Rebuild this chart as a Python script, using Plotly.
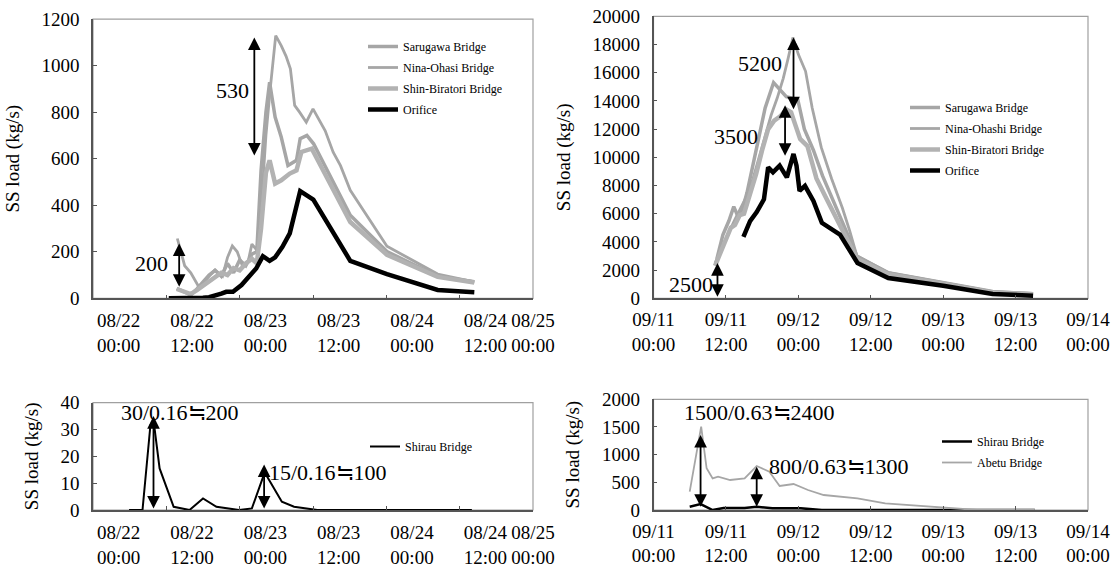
import plotly.graph_objects as go

FONT = "Liberation Serif"

# ---------------- Top-left: August event (hours from 08/22 00:00) ----------------
tl_saru_h = [13.7, 15.0, 16.0, 17.0, 18.0, 19.0, 20.0, 21.0, 22.0, 23.0, 24.0, 25.0, 26.0, 26.8, 27.5, 28.3, 28.9, 29.8, 30.8, 31.9, 33.3, 33.9, 35.0, 36.1, 42.1, 48.1, 56.4, 62.4]
tl_saru_v = [43, 25, 15, 40, 70, 100, 120, 95, 150, 110, 165, 140, 190, 200, 550, 800, 929, 779, 693, 571, 593, 686, 700, 664, 357, 201, 95, 71]

tl_nina_h = [13.8, 15.0, 16.0, 17.3, 18.5, 19.9, 21.2, 22.0, 22.8, 23.6, 24.5, 25.4, 26.0, 26.8, 27.6, 28.3, 29.0, 29.9, 30.8, 31.6, 32.3, 33.0, 33.8, 34.9, 36.0, 38.0, 39.3, 40.5, 42.1, 48.1, 56.4, 62.4]
tl_nina_v = [257, 140, 110, 50, 80, 121, 95, 175, 225, 200, 136, 160, 233, 207, 420, 700, 900, 1129, 1086, 1040, 986, 829, 800, 757, 814, 720, 628, 570, 464, 224, 104, 71]

tl_shin_h = [13.7, 15.0, 16.0, 17.0, 18.0, 19.0, 20.0, 21.0, 22.0, 23.0, 24.0, 25.0, 26.0, 26.8, 27.5, 28.3, 28.9, 29.8, 30.8, 32.2, 33.3, 34.1, 35.8, 42.1, 48.1, 56.4, 62.4]
tl_shin_v = [40, 28, 18, 35, 55, 75, 95, 110, 100, 130, 120, 150, 170, 150, 300, 540, 593, 493, 507, 536, 550, 629, 643, 328, 187, 92, 68]

tl_orif_h = [12.4, 14.0, 16.0, 18.0, 19.0, 20.1, 21.0, 21.8, 22.9, 24.3, 25.6, 26.7, 27.8, 28.9, 29.8, 31.0, 32.2, 33.9, 36.05, 39.3, 42.1, 48.1, 56.4, 62.4]
tl_orif_v = [0, 0, 0, 2, 5, 12, 20, 28, 28, 57, 93, 128, 181, 161, 176, 221, 279, 461, 424, 279, 161, 104, 36, 26]

# ---------------- Top-right: September event (hours from 09/11 00:00) ----------------
tr_saru_h = [10.5, 11.5, 12.5, 13.3, 14.0, 14.8, 15.5, 16.5, 17.5, 18.5, 19.9, 20.9, 22.0, 23.0, 23.9, 25.0, 26.5, 28.0, 29.5, 31.0, 32.5, 33.7, 38.9, 48.0, 56.2, 62.9]
tr_saru_v = [2800, 4500, 5500, 6500, 5800, 6400, 7500, 9500, 11500, 13500, 15300, 14800, 14300, 14200, 14100, 12000, 10500, 8700, 7200, 5800, 4300, 3000, 1800, 1100, 450, 330]

tr_nina_h = [10.2, 11.5, 12.5, 13.5, 14.5, 15.5, 16.5, 17.5, 18.5, 19.5, 20.5, 21.5, 22.3, 23.1, 24.0, 25.2, 26.3, 27.8, 29.5, 31.3, 32.5, 33.7, 38.9, 48.0, 56.2, 62.9]
tr_nina_v = [2500, 3800, 4700, 5600, 6500, 7300, 8500, 10000, 11500, 13000, 14200, 15600, 17000, 18500, 17300, 16100, 13500, 10700, 8500, 6400, 4800, 3000, 1840, 1130, 500, 350]

tr_shin_h = [10.2, 11.3, 12.0, 12.8, 13.5, 14.3, 15.0, 16.0, 17.0, 18.0, 19.0, 20.0, 21.0, 22.0, 22.8, 23.5, 24.3, 25.5, 27.0, 28.5, 30.0, 31.5, 33.7, 38.9, 48.0, 56.2, 62.9]
tr_shin_v = [2300, 3500, 4200, 5000, 5200, 5900, 6000, 7300, 8800, 10500, 12000, 12600, 12900, 13400, 13200, 12300, 11300, 10800, 8500, 7200, 5900, 4600, 2800, 1700, 1000, 400, 280]

tr_orif_h = [14.9, 16.0, 17.1, 18.3, 19.0, 19.8, 20.9, 22.1, 23.2, 23.7, 24.2, 25.1, 26.5, 27.9, 30.9, 33.8, 38.9, 48.0, 56.2, 62.9]
tr_orif_v = [4357, 5476, 6119, 7024, 9286, 8929, 9405, 8572, 10238, 9405, 7619, 7976, 6905, 5357, 4524, 2500, 1438, 896, 307, 189]

# ---------------- Bottom-left: Shirau Bridge, August ----------------
bl_shirau_h = [5.9, 8.1, 9.4, 9.9, 10.9, 13.2, 15.8, 18.0, 20.2, 23.9, 26.0, 28.1, 30.9, 32.9, 36.7, 62.0]
bl_shirau_v = [0, 0, 31.7, 33.5, 15.5, 1.2, 0, 4.3, 1.2, 0, 0.6, 14, 3.1, 1.2, 0, 0]

# ---------------- Bottom-right: Shirau / Abetu Bridge, September ----------------
br_shirau_h = [6.0, 7.8, 9.8, 11.6, 15.1, 17.1, 19.7, 24.4, 27.9, 63.2]
br_shirau_v = [60, 108, 0, 36, 36, 60, 30, 30, 0, 0]

br_abetu_h = [6.0, 7.9, 8.8, 9.8, 10.7, 12.7, 15.1, 17.1, 19.2, 20.9, 23.2, 25.6, 28.2, 33.8, 38.4, 48.1, 53.6, 63.2]
br_abetu_v = [331, 1506, 753, 572, 602, 542, 572, 795, 693, 434, 470, 361, 271, 211, 120, 48, 0, 0]

# ---------------- Axis labels ----------------
tick_hours = [0, 12, 24, 36, 48, 60, 72]
# the August panels print their date labels slightly to the right of the ticks
aug_label_hours = [4.2, 16.2, 28.2, 40.2, 52.2, 64.2, 72.0]
aug_ticks = ["08/22<br>00:00", "08/22<br>12:00", "08/23<br>00:00", "08/23<br>12:00",
             "08/24<br>00:00", "08/24<br>12:00", "08/25<br>00:00"]
sep_ticks = ["09/11<br>00:00", "09/11<br>12:00", "09/12<br>00:00", "09/12<br>12:00",
             "09/13<br>00:00", "09/13<br>12:00", "09/14<br>00:00"]
y_title = "SS load (kg/s)"

GRAY = "#a6a6a6"
GRAY_L = "#b2b2b2"

fig = go.Figure()

def add(xs, ys, name, color, width, xa, ya, leg, grp):
    fig.add_trace(go.Scatter(x=xs, y=ys, mode="lines", name=name,
                             line=dict(color=color, width=width),
                             xaxis=xa, yaxis=ya, legend=leg, legendgroup=grp))

add(tl_saru_h, tl_saru_v, "Sarugawa Bridge", GRAY, 3.5, "x", "y", "legend", "a1")
add(tl_nina_h, tl_nina_v, "Nina-Ohasi Bridge", GRAY, 2.8, "x", "y", "legend", "a2")
add(tl_shin_h, tl_shin_v, "Shin-Biratori Bridge", GRAY_L, 4.5, "x", "y", "legend", "a3")
add(tl_orif_h, tl_orif_v, "Orifice", "black", 4.5, "x", "y", "legend", "a4")

add(tr_saru_h, tr_saru_v, "Sarugawa Bridge", GRAY, 3.5, "x2", "y2", "legend2", "b1")
add(tr_nina_h, tr_nina_v, "Nina-Ohashi Bridge", GRAY, 2.8, "x2", "y2", "legend2", "b2")
add(tr_shin_h, tr_shin_v, "Shin-Biratori Bridge", GRAY_L, 4.5, "x2", "y2", "legend2", "b3")
add(tr_orif_h, tr_orif_v, "Orifice", "black", 4.5, "x2", "y2", "legend2", "b4")

add(bl_shirau_h, bl_shirau_v, "Shirau Bridge", "black", 2, "x3", "y3", "legend3", "c1")

add(br_shirau_h, br_shirau_v, "Shirau Bridge", "black", 2.5, "x4", "y4", "legend4", "d1")
add(br_abetu_h, br_abetu_v, "Abetu Bridge", GRAY, 1.8, "x4", "y4", "legend4", "d2")

# empty traces so the date-label axes of the August panels get drawn
for xa, ya in [("x5", "y"), ("x6", "y3")]:
    fig.add_trace(go.Scatter(x=[None], y=[None], mode="lines", xaxis=xa, yaxis=ya,
                             showlegend=False, hoverinfo="skip"))

W, H = 1114, 570
def px_x(a, b):
    return [a / W, b / W]
def px_y(top, bottom):
    return [1 - bottom / H, 1 - top / H]

xdom_l = px_x(93, 533)
xdom_r = px_x(653.5, 1088)

axis_font = dict(family=FONT, size=19, color="black")

def xaxis(dom, anchor, ticks_text, show_labels=True):
    return dict(domain=dom, anchor=anchor, range=[0, 72], tickvals=tick_hours,
                ticktext=ticks_text, showticklabels=show_labels,
                showgrid=False, zeroline=False, automargin=False,
                showline=True, linecolor="#555555", linewidth=1.5,
                ticks="inside", ticklen=4, tickcolor="#555555",
                tickfont=axis_font, ticklabelstandoff=3)

def label_axis(dom, over, anchor):
    return dict(domain=dom, overlaying=over, anchor=anchor, side="bottom", range=[0, 72],
                tickvals=aug_label_hours, ticktext=aug_ticks, ticks="",
                showline=False, showgrid=False, zeroline=False, automargin=False,
                tickfont=axis_font, ticklabelstandoff=9)

def yaxis(dom, anchor, rng, dtick):
    return dict(domain=dom, anchor=anchor, range=rng, dtick=dtick, tickformat="d",
                showgrid=False, zeroline=False, showline=True, automargin=False,
                linecolor="#555555", linewidth=1.5, ticks="inside", ticklen=4,
                tickcolor="#555555", tickfont=axis_font, ticklabelstandoff=8,
                title=dict(text=y_title, font=axis_font, standoff=17))

fig.update_layout(
    width=W, height=H, margin=dict(l=0, r=0, t=0, b=0, autoexpand=False),
    paper_bgcolor="white", plot_bgcolor="white",
    font=dict(family=FONT, color="black"),
    xaxis=xaxis(xdom_l, "y", aug_ticks, show_labels=False),
    yaxis=yaxis(px_y(19.1, 298.3), "x", [0, 1200], 200),
    xaxis2=xaxis(xdom_r, "y2", sep_ticks),
    yaxis2=yaxis(px_y(16.3, 298.3), "x2", [0, 20000], 2000),
    xaxis3=xaxis(xdom_l, "y3", aug_ticks, show_labels=False),
    yaxis3=yaxis(px_y(402.7, 510), "x3", [0, 40], 10),
    xaxis4=xaxis(xdom_r, "y4", sep_ticks),
    yaxis4=yaxis(px_y(399.3, 510), "x4", [0, 2000], 500),
    xaxis5=label_axis(xdom_l, "x", "y"),
    xaxis6=label_axis(xdom_l, "x3", "y3"),
)

leg_common = dict(xanchor="left", yanchor="top", bgcolor="rgba(0,0,0,0)",
                  font=dict(family=FONT, size=12, color="black"),
                  tracegroupgap=2)
fig.update_layout(
    legend=dict(x=363 / W, y=1 - 32 / H, **leg_common),
    legend2=dict(x=905 / W, y=1 - 93 / H, **leg_common),
    legend3=dict(x=365 / W, y=1 - 432 / H, **leg_common),
    legend4=dict(x=937 / W, y=1 - 427 / H, **leg_common),
)

# plot frame boxes (top/right borders in gray)
for xa, ya in [("x", "y"), ("x2", "y2"), ("x3", "y3"), ("x4", "y4")]:
    fig.add_shape(type="rect", xref=f"{xa} domain", yref=f"{ya} domain",
                  x0=0, x1=1, y0=0, y1=1, line=dict(color="#a0a0a0", width=1.2),
                  layer="below")

def arrow(xa, ya, x, y_top, y_bot):
    fig.add_annotation(xref=xa, yref=ya, axref=xa, ayref=ya, x=x, y=y_top, ax=x, ay=y_bot,
                       text="", showarrow=True, arrowhead=2, startarrowhead=2,
                       arrowside="end+start", arrowwidth=1.8, arrowsize=1.4,
                       startarrowsize=1.4, arrowcolor="black", standoff=0, startstandoff=0)

def label(xa, ya, x, y, text, anchor="center"):
    fig.add_annotation(xref=xa, yref=ya, x=x, y=y, text=text, showarrow=False,
                       xanchor=anchor, font=dict(family=FONT, size=22, color="black"))

arrow("x", "y", 26.4, 1121, 607)
label("x", "y", 22.8, 893, "530")
arrow("x", "y", 14.1, 236, 43)
label("x", "y", 9.6, 150, "200")

arrow("x2", "y2", 23.2, 18500, 13300)
label("x2", "y2", 17.7, 16660, "5200")
arrow("x2", "y2", 21.8, 13700, 10000)
label("x2", "y2", 13.7, 11500, "3500")
arrow("x2", "y2", 10.6, 2500, 0)
label("x2", "y2", 6.2, 950, "2500")

arrow("x3", "y3", 9.9, 35, 0)
label("x3", "y3", 14.3, 36.5, "30/0.16≒200")
arrow("x3", "y3", 28.0, 17, 0)
label("x3", "y3", 38.5, 14, "15/0.16≒100")

arrow("x4", "y4", 7.8, 1355, 30)
label("x4", "y4", 17.5, 1753, "1500/0.63≒2400")
arrow("x4", "y4", 17.1, 783, 30)
label("x4", "y4", 30.7, 777, "800/0.63≒1300")

# remove the browser's default 8px page margin so the figure fills the window exactly
fig.write_html("out.html", config={"displayModeBar": False},
               post_script="document.body.style.margin='0';")
